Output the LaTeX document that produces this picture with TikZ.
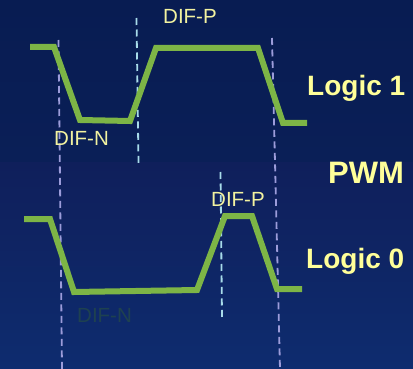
\documentclass[tikz,border=0pt]{standalone}
\usepackage{fontspec}
\setmainfont{Liberation Sans}
\definecolor{navyA}{HTML}{081C52}
\definecolor{navyB}{HTML}{0A1F57}
\definecolor{navyC}{HTML}{0F1F5B}
\definecolor{navyD}{HTML}{0E2C6F}
\definecolor{wave}{HTML}{7DB546}
\definecolor{lav}{HTML}{9C9CDA}
\definecolor{cyanl}{HTML}{A8DCEA}
\definecolor{lbl}{HTML}{F2F2A0}
\definecolor{big}{HTML}{FFFF99}
\definecolor{darklbl}{HTML}{1E4150}
\tikzset{
  wavepath/.style={draw=wave, line width=6pt, line join=miter},
  lavdash/.style={draw=lav, line width=1.8pt, dash pattern=on 7pt off 4.5pt},
  cyandash/.style={draw=cyanl, line width=1.8pt, dash pattern=on 7pt off 4.5pt},
  smalllbl/.style={text=lbl, inner sep=0pt, anchor=base west, font=\fontsize{20.5}{24}\selectfont},
  biglbl/.style={text=big, inner sep=0pt, anchor=base west, font=\bfseries\fontsize{28}{32}\selectfont},
}
\begin{document}
\begin{tikzpicture}[x={(1pt,0)}, y={(0,-1pt)}]
\useasboundingbox (0,0) rectangle (413,369);
\shade[top color=navyA, bottom color=navyB] (0,0) rectangle (413,163);
\shade[top color=navyC, bottom color=navyD] (0,163) rectangle (413,369);
% dashed markers
\draw[lavdash] (58.5,40) -- (62,369);
\draw[cyandash] (136.5,18) -- (138.5,163);
\draw[lavdash] (272,38) -- (280,369);
\draw[cyandash] (220.5,172) -- (222,317);
% waveforms
\draw[wavepath] (30,47) -- (54,47) -- (80,120) -- (130,121) -- (156,48) -- (258,48) -- (283,123) -- (307,123);
\draw[wavepath] (24,219) -- (50,219) -- (74,292) -- (197,290) -- (225,216) -- (252,216) -- (277,289) -- (302,289);
% labels
\node[smalllbl] (difp1) at (163,24) {DIF-P};
\node[smalllbl] (difn1) at (54,146) {DIF-N};
\node[smalllbl] (difp0) at (211,207) {DIF-P};
\node[smalllbl, text=darklbl] (difn0) at (77,322) {DIF-N};
\node[biglbl] (logic1) at (307,96) {Logic 1};
\node[biglbl, font=\bfseries\fontsize{31}{34}\selectfont] (pwm) at (328,183) {PWM};
\node[biglbl] (logic0) at (306,268) {Logic 0};
\end{tikzpicture}
\end{document}
